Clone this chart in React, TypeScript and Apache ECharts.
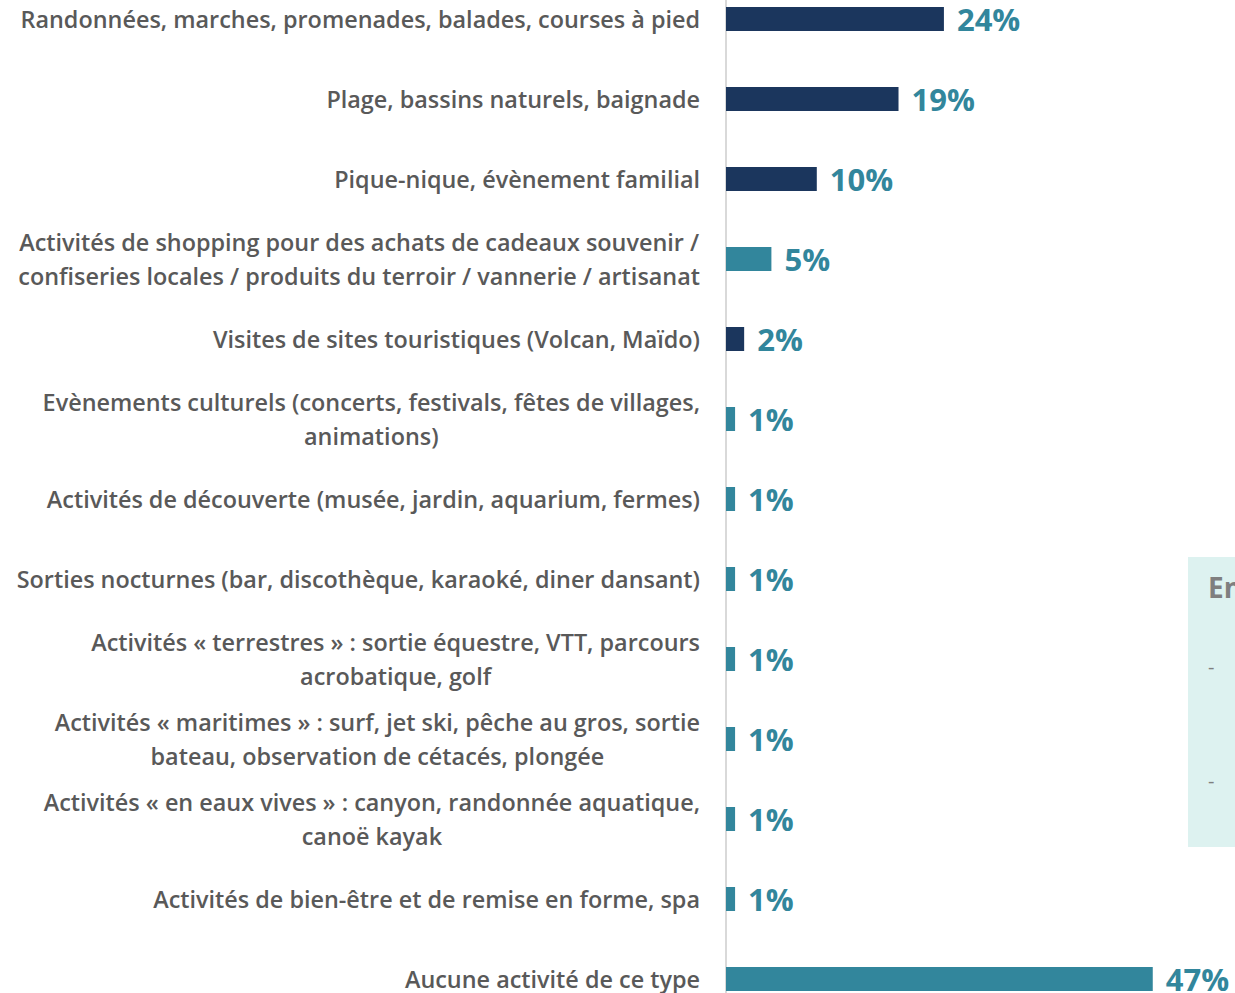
import React, { useEffect, useRef } from "react";
import * as echarts from "echarts";

const categories: string[] = [
  "Randonnées, marches, promenades, balades, courses à pied",
  "Plage, bassins naturels, baignade",
  "Pique-nique, évènement familial",
  "Activités de shopping pour des achats de cadeaux souvenir /\nconfiseries locales / produits du terroir / vannerie / artisanat",
  "Visites de sites touristiques (Volcan, Maïdo)",
  "Evènements culturels (concerts, festivals, fêtes de villages,\nanimations)",
  "Activités de découverte (musée, jardin, aquarium, fermes)",
  "Sorties nocturnes (bar, discothèque, karaoké, diner dansant)",
  "Activités « terrestres » : sortie équestre, VTT, parcours\nacrobatique, golf",
  "Activités « maritimes » : surf, jet ski, pêche au gros, sortie\nbateau, observation de cétacés, plongée",
  "Activités « en eaux vives » : canyon, randonnée aquatique,\ncanoë kayak",
  "Activités de bien-être et de remise en forme, spa",
  "Aucune activité de ce type",
];

const values: number[] = [24, 19, 10, 5, 2, 1, 1, 1, 1, 1, 1, 1, 47];

// 0 = navy, 1 = teal
const colorGroup: number[] = [0, 0, 0, 1, 0, 1, 1, 1, 1, 1, 1, 1, 1];

const NAVY = "#1B365D";
const TEAL = "#32869C";

export default function App() {
  const ref = useRef<HTMLDivElement>(null);

  useEffect(() => {
    if (!ref.current) return;
    const chart = echarts.init(ref.current, undefined, { renderer: "svg" });
    const option: any = {
      animation: false,
      backgroundColor: "#FFFFFF",
      grid: {
        left: 726,
        top: -21,
        width: 454,
        height: 1040,
        containLabel: false,
        outerBoundsMode: "none",
      },
      xAxis: {
        type: "value",
        min: 0,
        max: 50,
        show: false,
        splitLine: { show: false },
      },
      yAxis: {
        type: "category",
        inverse: true,
        data: categories,
        axisLine: { show: true, lineStyle: { color: "#D9D9D9", width: 2 } },
        axisTick: { show: false },
        axisLabel: {
          margin: 26,
          color: "#595959",
          fontFamily: "Open Sans",
          fontWeight: 600,
          fontSize: 23.4,
          lineHeight: 34,
          formatter: (v: string) =>
            v
              .split("\n")
              .map((l) => "{c|" + l + "}")
              .join("\n"),
          rich: {
            c: {
              align: "center",
              color: "#595959",
              fontFamily: "Open Sans",
              fontWeight: 600,
              fontSize: 23.4,
              lineHeight: 34,
            },
          },
        },
      },
      series: [
        {
          type: "bar",
          barWidth: 24,
          data: values.map((v, i) => ({
            value: v,
            itemStyle: { color: colorGroup[i] === 0 ? NAVY : TEAL },
          })),
          label: {
            show: true,
            position: "right",
            distance: 13,
            formatter: "{c}%",
            color: TEAL,
            fontFamily: "Open Sans",
            fontWeight: 700,
            fontSize: 31,
          },
        },
      ],
      graphic: [
        {
          type: "rect",
          shape: { x: 1188, y: 557, width: 60, height: 290 },
          style: { fill: "#DDF2F0" },
          silent: true,
        },
        {
          type: "text",
          x: 1208,
          y: 587,
          style: {
            text: "En",
            fill: "#7F7F7F",
            font: "bold 28px 'Open Sans'",
            textVerticalAlign: "middle",
          },
        },
        {
          type: "text",
          x: 1208,
          y: 666,
          style: { text: "-", fill: "#7F7F7F", font: "20px 'Open Sans'", textVerticalAlign: "middle" },
        },
        {
          type: "text",
          x: 1208,
          y: 780,
          style: { text: "-", fill: "#7F7F7F", font: "20px 'Open Sans'", textVerticalAlign: "middle" },
        },
      ],
    };
    chart.setOption(option);
    return () => chart.dispose();
  }, []);

  return (
    <div
      ref={ref}
      style={{ position: "fixed", left: 0, top: 0, width: 1235, height: 993, background: "#fff" }}
    />
  );
}
